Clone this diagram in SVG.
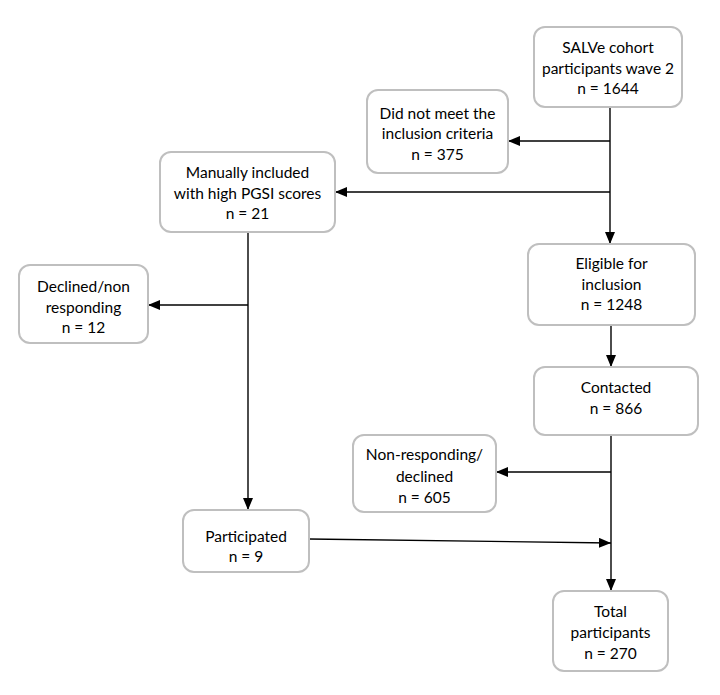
<svg xmlns="http://www.w3.org/2000/svg" width="720" height="695" viewBox="0 0 720 695">
<style>
.box{fill:#fff;stroke:#bfbfbf;stroke-width:2}
.t{font-family:Lato,"Open Sans","Liberation Sans",sans-serif;font-size:15.5px;fill:#000;text-anchor:middle;dominant-baseline:central}
.c{fill:none;stroke:#000;stroke-width:1.4}
</style>
<defs>
<marker id="ah" markerWidth="12" markerHeight="10" refX="12" refY="5" orient="auto" markerUnits="userSpaceOnUse">
<path d="M0,0 L12,5 L0,10 Z" fill="#000"/>
</marker>
</defs>
<rect width="720" height="695" fill="#fff"/>
<g id="connectors">
<line class="c" x1="610" y1="107" x2="610" y2="244" marker-end="url(#ah)"/>
<line class="c" x1="610" y1="141" x2="508" y2="141" marker-end="url(#ah)"/>
<line class="c" x1="610" y1="192" x2="335" y2="192" marker-end="url(#ah)"/>
<line class="c" x1="611" y1="325" x2="611" y2="367" marker-end="url(#ah)"/>
<line class="c" x1="248" y1="232" x2="248" y2="510" marker-end="url(#ah)"/>
<line class="c" x1="248" y1="305" x2="148" y2="305" marker-end="url(#ah)"/>
<line class="c" x1="611" y1="435" x2="611" y2="591" marker-end="url(#ah)"/>
<line class="c" x1="611" y1="472" x2="496" y2="472" marker-end="url(#ah)"/>
<line class="c" x1="309" y1="539" x2="611" y2="543" marker-end="url(#ah)"/>
</g>
<g id="salve">
<rect class="box" x="534" y="27" width="148" height="80" rx="11"/>
<text class="t" x="608" y="47">SALVe cohort</text>
<text class="t" x="608" y="68">participants wave 2</text>
<text class="t" x="608" y="88">n = 1644</text>
</g>
<g id="notmeet">
<rect class="box" x="367" y="90" width="141" height="83" rx="11"/>
<text class="t" x="437.5" y="113">Did not meet the</text>
<text class="t" x="437.5" y="133">inclusion criteria</text>
<text class="t" x="437.5" y="154">n = 375</text>
</g>
<g id="manual">
<rect class="box" x="160" y="152" width="175" height="80" rx="11"/>
<text class="t" x="247.5" y="172">Manually included</text>
<text class="t" x="247.5" y="193">with high PGSI scores</text>
<text class="t" x="247.5" y="213">n = 21</text>
</g>
<g id="declined">
<rect class="box" x="19" y="265" width="129" height="78" rx="11"/>
<text class="t" x="83.5" y="286">Declined/non</text>
<text class="t" x="83.5" y="307">responding</text>
<text class="t" x="83.5" y="327">n = 12</text>
</g>
<g id="eligible">
<rect class="box" x="528" y="244" width="167" height="81" rx="11"/>
<text class="t" x="611.5" y="263">Eligible for</text>
<text class="t" x="611.5" y="284">inclusion</text>
<text class="t" x="611.5" y="304">n = 1248</text>
</g>
<g id="contacted">
<rect class="box" x="534" y="367" width="164" height="68" rx="11"/>
<text class="t" x="616" y="387">Contacted</text>
<text class="t" x="616" y="408">n = 866</text>
</g>
<g id="nonresp">
<rect class="box" x="353" y="435" width="143" height="77" rx="11"/>
<text class="t" x="424.5" y="454">Non-responding/</text>
<text class="t" x="424.5" y="476">declined</text>
<text class="t" x="424.5" y="497">n = 605</text>
</g>
<g id="participated">
<rect class="box" x="183" y="510" width="126" height="62" rx="11"/>
<text class="t" x="246" y="536">Participated</text>
<text class="t" x="246" y="556">n = 9</text>
</g>
<g id="total">
<rect class="box" x="553" y="591" width="115" height="80" rx="11"/>
<text class="t" x="610.5" y="611">Total</text>
<text class="t" x="610.5" y="632">participants</text>
<text class="t" x="610.5" y="653">n = 270</text>
</g>
</svg>
